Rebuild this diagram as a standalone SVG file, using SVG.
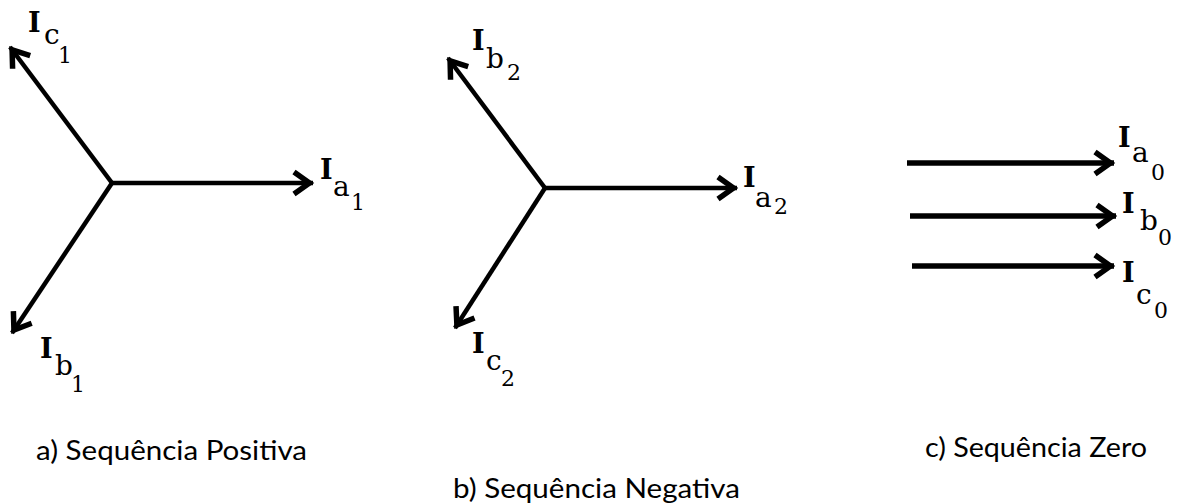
<svg xmlns="http://www.w3.org/2000/svg" width="1177" height="503" viewBox="0 0 1177 503">
<style>
.bg{fill:#fff}
.ln{stroke:#000;fill:none;stroke-linecap:butt}
.t{stroke-width:4.5}
.k{stroke-width:5.5}
.I{font-family:"DejaVu Serif","Liberation Serif",serif;font-weight:bold;font-size:27px;fill:#000}
.s{font-family:"DejaVu Serif","Liberation Serif",serif;font-weight:normal;font-size:28px}
.d{font-family:"DejaVu Serif","Liberation Serif",serif;font-weight:normal;font-size:22px}
.cap{font-family:Lato,"Open Sans",sans-serif;font-size:27px;fill:#000}
</style>
<defs>
<marker id="ah" markerUnits="userSpaceOnUse" viewBox="-30 -20 40 40" refX="0" refY="0" markerWidth="40" markerHeight="40" orient="auto" overflow="visible">
<path d="M-19,-11 L-3.5,0 L-19,11" fill="none" stroke="#000" stroke-width="5.5"/>
</marker>
</defs>
<rect class="bg" x="0" y="0" width="1177" height="503"/>
<g id="connectors">
<line class="ln t" x1="112" y1="183" x2="313" y2="183" marker-end="url(#ah)"/>
<line class="ln t" x1="112" y1="183" x2="10" y2="47" marker-end="url(#ah)"/>
<line class="ln t" x1="112" y1="183" x2="12" y2="333" marker-end="url(#ah)"/>
<line class="ln t" x1="545" y1="188" x2="737" y2="188" marker-end="url(#ah)"/>
<line class="ln t" x1="545" y1="188" x2="448" y2="58" marker-end="url(#ah)"/>
<line class="ln t" x1="545" y1="188" x2="455" y2="328" marker-end="url(#ah)"/>
<line class="ln k" x1="907" y1="163" x2="1114" y2="163" marker-end="url(#ah)"/>
<line class="ln k" x1="910" y1="216" x2="1116" y2="216" marker-end="url(#ah)"/>
<line class="ln k" x1="912" y1="266" x2="1114" y2="266" marker-end="url(#ah)"/>
</g>
<g id="label-Ia1"><text class="I" x="320" y="179">I<tspan class="s" x="333" y="196">a</tspan><tspan class="d" x="351" y="210">1</tspan></text></g>
<g id="label-Ic1"><text class="I" x="28" y="32">I<tspan class="s" x="44" y="44">c</tspan><tspan class="d" x="58" y="63">1</tspan></text></g>
<g id="label-Ib1"><text class="I" x="40" y="358">I<tspan class="s" x="55" y="375">b</tspan><tspan class="d" x="71" y="392">1</tspan></text></g>
<g id="label-Ia2"><text class="I" x="743" y="187">I<tspan class="s" x="755" y="207">a</tspan><tspan class="d" x="774" y="214">2</tspan></text></g>
<g id="label-Ib2"><text class="I" x="472" y="50">I<tspan class="s" x="486" y="68">b</tspan><tspan class="d" x="507" y="80">2</tspan></text></g>
<g id="label-Ic2"><text class="I" x="472" y="353">I<tspan class="s" x="486" y="370">c</tspan><tspan class="d" x="501" y="386">2</tspan></text></g>
<g id="label-Ia0"><text class="I" x="1118" y="147">I<tspan class="s" x="1132" y="162">a</tspan><tspan class="d" x="1151" y="180">0</tspan></text></g>
<g id="label-Ib0"><text class="I" x="1122" y="213">I<tspan class="s" x="1140" y="230">b</tspan><tspan class="d" x="1158" y="245">0</tspan></text></g>
<g id="label-Ic0"><text class="I" x="1122" y="282">I<tspan class="s" x="1136" y="304">c</tspan><tspan class="d" x="1154" y="318">0</tspan></text></g>
<g id="caption-a"><text class="cap" x="36" y="460" textLength="271" lengthAdjust="spacingAndGlyphs">a) Sequência Positiva</text></g>
<g id="caption-b"><text class="cap" x="453" y="498" textLength="287" lengthAdjust="spacingAndGlyphs">b) Sequência Negativa</text></g>
<g id="caption-c"><text class="cap" x="925" y="457" textLength="222" lengthAdjust="spacingAndGlyphs">c) Sequência Zero</text></g>
</svg>
